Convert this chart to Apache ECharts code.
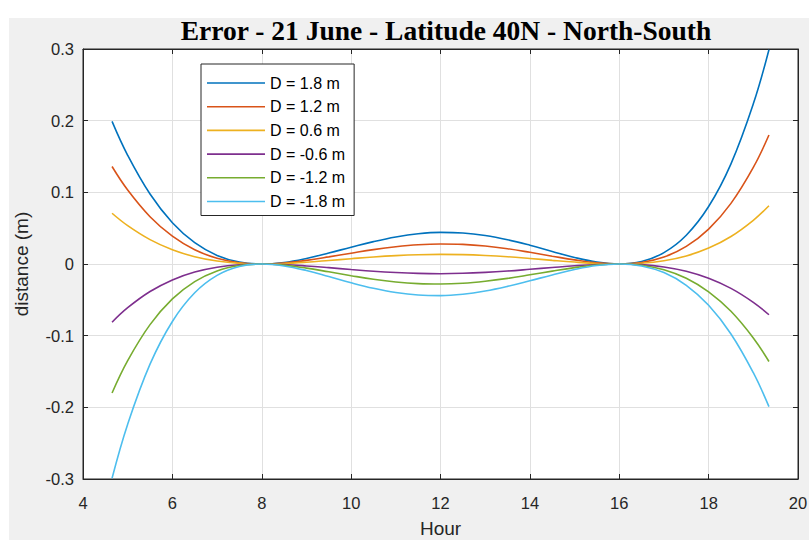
<!DOCTYPE html>
<html>
<head>
<meta charset="utf-8">
<script src="https://cdn.jsdelivr.net/npm/echarts@6/dist/echarts.min.js"></script>
<style>html,body{margin:0;padding:0;background:#fff}#c{width:809px;height:540px}</style>
</head>
<body>
<div id="c"></div>
<script>
const titleText = 'Error - 21 June - Latitude 40N - North-South';
const xName = 'Hour';
const yName = 'distance (m)';
const seriesNames = ['D = 1.8 m', 'D = 1.2 m', 'D = 0.6 m', 'D = -0.6 m', 'D = -1.2 m', 'D = -1.8 m'];
const colors = ['#0072BD', '#D95319', '#EDB120', '#7E2F8E', '#77AC30', '#4DBEEE'];
const xTicks = [4, 6, 8, 10, 12, 14, 16, 18, 20];
const yTicks = [-0.3, -0.2, -0.1, 0, 0.1, 0.2, 0.3];

const hours = [4.65,5,5.5,6,6.5,7,7.5,8,8.5,9,9.5,10,10.5,11,11.5,12,12.5,13,13.5,14,14.5,15,15.5,16,16.5,17,17.5,18,18.5,19,19.35];
const d18  = [0.199,0.1517,0.0976,0.0576,0.0297,0.0120,0.0027,0,0.0022,0.0078,0.0153,0.0234,0.0312,0.0377,0.0422,0.0441,0.0433,0.0398,0.0339,0.0262,0.0175,0.0091,0.0027,0,0.0035,0.0159,0.0402,0.0802,0.1398,0.2235,0.299];
const d12  = [0.136,0.1032,0.0660,0.0388,0.0199,0.0080,0.0018,0,0.0014,0.0051,0.0099,0.0151,0.0201,0.0241,0.0269,0.0280,0.0274,0.0251,0.0213,0.0163,0.0109,0.0057,0.0016,0,0.0021,0.0097,0.0245,0.0487,0.0846,0.1348,0.180];
const d06  = [0.0708,0.0535,0.0340,0.0199,0.0101,0.0041,0.0009,0,0.0007,0.0025,0.0049,0.0074,0.0098,0.0117,0.0130,0.0135,0.0131,0.0119,0.0101,0.0077,0.0051,0.0027,0.0008,0,0.0010,0.0045,0.0112,0.0222,0.0384,0.0610,0.0812];
const dm06 = [-0.0812,-0.0610,-0.0384,-0.0222,-0.0112,-0.0045,-0.0010,0,-0.0008,-0.0027,-0.0051,-0.0077,-0.0101,-0.0119,-0.0131,-0.0135,-0.0130,-0.0117,-0.0098,-0.0074,-0.0049,-0.0025,-0.0007,0,-0.0009,-0.0041,-0.0101,-0.0199,-0.0340,-0.0535,-0.0708];
const dm12 = [-0.180,-0.1348,-0.0846,-0.0487,-0.0245,-0.0097,-0.0021,0,-0.0016,-0.0057,-0.0109,-0.0163,-0.0213,-0.0251,-0.0274,-0.0280,-0.0269,-0.0241,-0.0201,-0.0151,-0.0099,-0.0051,-0.0014,0,-0.0018,-0.0080,-0.0199,-0.0388,-0.0660,-0.1032,-0.136];
const dm18 = [-0.299,-0.2235,-0.1398,-0.0802,-0.0402,-0.0159,-0.0035,0,-0.0027,-0.0091,-0.0175,-0.0262,-0.0339,-0.0398,-0.0433,-0.0441,-0.0422,-0.0377,-0.0312,-0.0234,-0.0153,-0.0078,-0.0022,0,-0.0027,-0.0120,-0.0297,-0.0576,-0.0976,-0.1517,-0.199];

const allSeries = [d18, d12, d06, dm06, dm12, dm18];
const axisColor = '#262626';
const sans = '"Liberation Sans", Arial, sans-serif';

const chart = echarts.init(document.getElementById('c'), null, {renderer: 'svg'});
const axisCommon = {
  type: 'value',
  axisLine: {show: true, onZero: false, lineStyle: {color: axisColor, width: 1}},
  axisTick: {show: true, inside: true, length: 5, lineStyle: {color: axisColor}},
};
chart.setOption({
  animation: false,
  backgroundColor: '#fff',
  color: colors,
  graphic: [{type: 'rect', z: -100, silent: true, shape: {x: 9, y: 18, width: 800, height: 522}, style: {fill: '#f0f0f0'}}],
  title: {
    text: titleText, left: 441, top: 11, textAlign: 'center',
    textStyle: {fontFamily: '"Liberation Serif", "Times New Roman", serif', fontWeight: 'bold', fontSize: 27.5, color: '#000'}
  },
  grid: {left: 83, right: 11, top: 49, bottom: 61, outerBoundsMode: 'none', containLabel: false,
    show: true, backgroundColor: '#fff', borderColor: axisColor, borderWidth: 1},
  legend: {
    orient: 'vertical', left: 201, top: 64,
    backgroundColor: '#fff', borderColor: axisColor, borderWidth: 1,
    padding: [11, 9, 6, 6], itemWidth: 58, itemHeight: 14, itemGap: 7.7,
    icon: 'path://M0,0H58V1.6H0Z',
    textStyle: {fontFamily: sans, fontSize: 16, color: '#000'},
    data: seriesNames
  },
  xAxis: [
    Object.assign({}, axisCommon, {
      min: xTicks[0], max: xTicks[xTicks.length - 1], interval: 2, position: 'bottom',
      axisLabel: {color: axisColor, fontSize: 16.5, fontFamily: sans, margin: 15},
      splitLine: {show: true, lineStyle: {color: '#e0e0e0', width: 1}},
      name: xName, nameLocation: 'middle', nameGap: 40,
      nameTextStyle: {color: axisColor, fontSize: 19, fontFamily: sans}
    }),
    Object.assign({}, axisCommon, {
      min: xTicks[0], max: xTicks[xTicks.length - 1], interval: 2, position: 'top',
      axisLabel: {show: false}, splitLine: {show: false}
    })
  ],
  yAxis: [
    Object.assign({}, axisCommon, {
      min: yTicks[0], max: yTicks[yTicks.length - 1], interval: 0.1, position: 'left',
      axisLabel: {color: axisColor, fontSize: 16.5, fontFamily: sans, margin: 9,
        formatter: v => String(Number(v.toFixed(1)))},
      splitLine: {show: true, lineStyle: {color: '#e0e0e0', width: 1}},
      name: yName, nameLocation: 'middle', nameGap: 52, nameRotate: 90,
      nameTextStyle: {color: axisColor, fontSize: 19, fontFamily: sans}
    }),
    Object.assign({}, axisCommon, {
      min: yTicks[0], max: yTicks[yTicks.length - 1], interval: 0.1, position: 'right',
      axisLabel: {show: false}, splitLine: {show: false}
    })
  ],
  series: seriesNames.map((name, i) => ({
    name: name, type: 'line', xAxisIndex: 0, yAxisIndex: 0,
    data: hours.map((h, j) => [h, allSeries[i][j]]),
    symbol: 'none', smooth: 0.4, clip: true,
    lineStyle: {width: 1.6, color: colors[i]}
  }))
});
</script>
</body>
</html>
